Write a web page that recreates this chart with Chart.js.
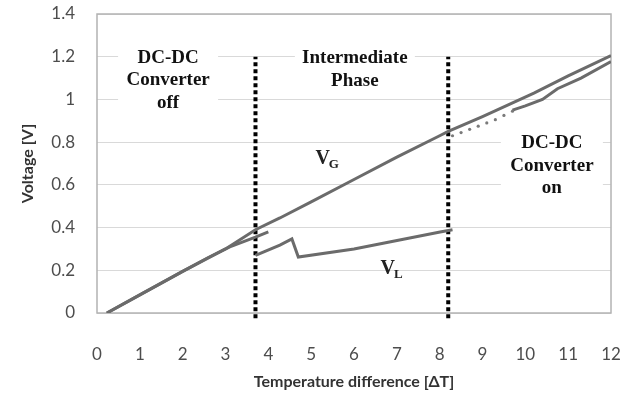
<!DOCTYPE html>
<html>
<head>
<meta charset="utf-8">
<script src="https://cdn.jsdelivr.net/npm/chart.js@4"></script>
<style>
  body { margin: 0; background: #fff; }
  canvas { display: block; }
</style>
</head>
<body>
<canvas id="chart" width="635" height="396"></canvas>
<script>
// Axis ticks
const xTicks = [0, 1, 2, 3, 4, 5, 6, 7, 8, 9, 10, 11, 12];
const yTicks = [0, 0.2, 0.4, 0.6, 0.8, 1, 1.2, 1.4];
const yTickLabels = ["0", "0.2", "0.4", "0.6", "0.8", "1", "1.2", "1.4"];

// V_G (generator voltage)
const vgX = [0.23, 1, 2, 3, 3.7, 4.27, 5, 6, 7, 8, 8.2, 9, 10.2, 11, 12];
const vgY = [0, 0.085, 0.195, 0.3, 0.39, 0.445, 0.52, 0.625, 0.73, 0.83, 0.85, 0.92, 1.03, 1.11, 1.205];

// V_L while converter off (follows V_G, then drops a little)
const vlOffX = [0.23, 1, 2, 2.6, 3.1, 3.7, 4.0];
const vlOffY = [0, 0.085, 0.195, 0.26, 0.31, 0.355, 0.38];

// V_L intermediate phase
const vlMidX = [3.7, 4.27, 4.55, 4.7, 6, 8.01, 8.3];
const vlMidY = [0.27, 0.318, 0.347, 0.262, 0.3, 0.379, 0.39];

// V_L converter on, sparse dots then solid
const vlDotX = [8.3, 8.5, 8.7, 8.9, 9.1, 9.3, 9.5, 9.7];
const vlDotY = [0.83, 0.845, 0.86, 0.875, 0.89, 0.905, 0.925, 0.945];
const vlOnX = [9.7, 10.0, 10.4, 10.75, 11.3, 12];
const vlOnY = [0.95, 0.97, 1.0, 1.05, 1.1, 1.177];

// Phase boundaries
const boundaries = [3.7, 8.2];

const toPts = (xs, ys) => xs.map((x, i) => ({ x: x, y: ys[i] }));

const lineColor = "#6b6b6b";
const lineStyle = {
  borderColor: lineColor,
  borderWidth: 3,
  pointRadius: 0,
  showLine: true,
  tension: 0,
};

const boundarySets = boundaries.map((b) => ({
  data: [{ x: b, y: -0.025 }, { x: b, y: 1.2 }],
  borderColor: "#000",
  borderWidth: 4,
  borderDash: [4, 3],
  pointRadius: 0,
  showLine: true,
  clip: false,
}));

// text annotations in data units
const notes = [
  { x: 1.66, y: 1.09, lines: ["DC-DC", "Converter", "off"], box: 100 },
  { x: 6.02, y: 1.14, lines: ["Intermediate", "Phase"], box: 120 },
  { x: 10.62, y: 0.69, lines: ["DC-DC", "Converter", "on"], box: 102 },
];
const subs = [
  { x: 5.32, y: 0.72, main: "V", sub: "G" },
  { x: 6.84, y: 0.205, main: "V", sub: "L" },
];

// drop the extra room Chart.js keeps for edge tick labels
const noPad = (s) => {
  s.paddingLeft = 0;
  s.paddingRight = 0;
  s.paddingTop = 0;
  s.paddingBottom = 0;
};

const notesPlugin = {
  id: "notes",
  beforeDatasetsDraw(chart) {
    const ctx = chart.ctx;
    const xs = chart.scales.x, ys = chart.scales.y;
    ctx.save();
    // plot area frame
    const a = chart.chartArea;
    ctx.strokeStyle = "#b3b3b3";
    ctx.lineWidth = 1.5;
    ctx.strokeRect(a.left, a.top, a.right - a.left, a.bottom - a.top);
    ctx.font = "bold 19px 'Liberation Serif'";
    ctx.textAlign = "center";
    ctx.textBaseline = "middle";
    const lh = 22.5;
    notes.forEach((n) => {
      const cx = xs.getPixelForValue(n.x);
      const cy = ys.getPixelForValue(n.y);
      const h = n.lines.length * lh;
      ctx.fillStyle = "#fff";
      ctx.fillRect(cx - n.box / 2, cy - h / 2 - 2, n.box, h + 4);
      ctx.fillStyle = "#111";
      n.lines.forEach((t, i) => {
        ctx.fillText(t, cx, cy - h / 2 + lh * (i + 0.5));
      });
    });
    subs.forEach((s) => {
      const cx = xs.getPixelForValue(s.x);
      const cy = ys.getPixelForValue(s.y);
      ctx.fillStyle = "#222";
      ctx.font = "bold 20px 'Liberation Serif'";
      ctx.textAlign = "right";
      ctx.fillText(s.main, cx + 5, cy);
      ctx.font = "bold 13px 'Liberation Serif'";
      ctx.textAlign = "left";
      ctx.fillText(s.sub, cx + 4, cy + 5);
    });
    ctx.restore();
  },
};

new Chart(document.getElementById("chart"), {
  type: "scatter",
  data: {
    datasets: [
      Object.assign({ data: toPts(vgX, vgY) }, lineStyle),
      Object.assign({ data: toPts(vlOffX, vlOffY) }, lineStyle),
      Object.assign({ data: toPts(vlMidX, vlMidY) }, lineStyle),
      {
        data: toPts(vlDotX, vlDotY),
        showLine: false,
        pointRadius: 1.6,
        pointBackgroundColor: "#7a7a7a",
        pointBorderWidth: 0,
      },
      Object.assign({ data: toPts(vlOnX, vlOnY) }, lineStyle),
      ...boundarySets,
    ],
  },
  options: {
    responsive: false,
    animation: false,
    devicePixelRatio: 1,
    layout: { padding: { left: 0, right: 24, top: 14, bottom: 0 } },
    plugins: { legend: { display: false }, tooltip: { enabled: false } },
    scales: {
      x: {
        type: "linear",
        min: 0,
        max: 12,
        afterFit: (s) => { s.height = 83; noPad(s); },
        afterBuildTicks: (s) => { s.ticks = xTicks.map((v) => ({ value: v })); },
        grid: { display: false, drawTicks: false },
        border: { display: false },
        ticks: { padding: 31, color: "#4d4d4d", font: { family: "Lato", size: 17 } },
        title: {
          display: true,
          text: "Temperature difference [ΔT]",
          color: "#333",
          font: { family: "Lato", size: 16, weight: "bold" },
          padding: { top: 0, bottom: 5 },
        },
      },
      y: {
        min: 0,
        max: 1.4,
        afterFit: (s) => { s.width = 97; noPad(s); },
        afterBuildTicks: (s) => { s.ticks = yTicks.map((v) => ({ value: v })); },
        grid: { color: "#d9d9d9", lineWidth: 1, drawTicks: false },
        border: { display: false },
        ticks: {
          padding: 22,
          color: "#4d4d4d",
          font: { family: "Lato", size: 17 },
          callback: (v) => yTickLabels[yTicks.indexOf(v)],
        },
        title: {
          display: true,
          text: "Voltage [V]",
          color: "#333",
          font: { family: "Lato", size: 16, weight: "bold" },
          padding: { top: 18, bottom: 0 },
        },
      },
    },
  },
  plugins: [notesPlugin],
});
</script>
</body>
</html>
